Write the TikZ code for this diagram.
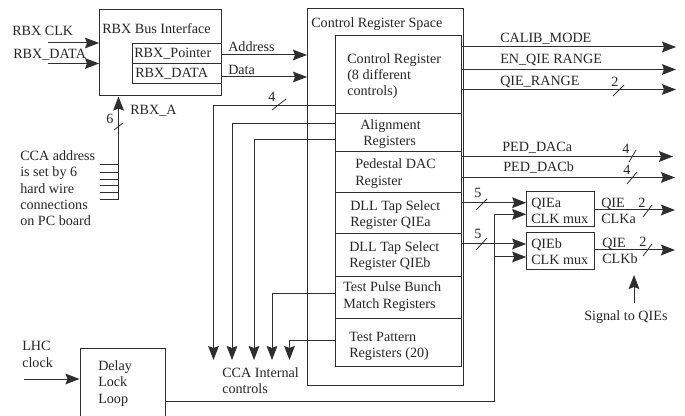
\documentclass[tikz,border=0pt]{standalone}
\usepackage{fontspec}
\setmainfont{Liberation Serif}
\usetikzlibrary{arrows.meta,fit}
\definecolor{ink}{gray}{0.18}
\tikzset{
  x=0.75pt,y=-0.75pt,
  panel/.style={draw=ink,line width=0.75pt,inner sep=0pt,fill=none},
  wire/.style={draw=ink,line width=0.75pt},
  sig/.style={wire,-{Stealth[length=10.5pt,width=8pt,inset=1.5pt]}},
  tick/.style={draw=ink,line width=0.6pt},
  lbl/.style={anchor=west,inner sep=0pt,text=black!85,font=\fontsize{10.6}{12}\selectfont,text height=8.6pt,text depth=2pt},
}
\begin{document}
\begin{tikzpicture}
\useasboundingbox (0,0) rectangle (685,416);
\fill[white] (0,0) rectangle (685,416);
% boxes
\node[panel,fit={(99.5,10)(221.5,96)}] (rbx) {};
\node[panel,fit={(132.5,43.5)(221,64)}] (ptr) {};
\node[panel,fit={(132.5,64)(221,83.5)}] (rdata) {};
\node[panel,fit={(307.5,8.5)(463.5,385)}] (space) {};
\node[panel,fit={(335.5,35.7)(461.7,114)}] (rctl) {};
\node[panel,fit={(335.5,114)(461.7,151.5)}] (ralign) {};
\node[panel,fit={(335.5,151.5)(461.7,192.3)}] (rped) {};
\node[panel,fit={(335.5,192.3)(461.7,234)}] (rdlla) {};
\node[panel,fit={(335.5,234)(461.7,276.7)}] (rdllb) {};
\node[panel,fit={(335.5,276.7)(461.7,318.7)}] (rpulse) {};
\node[panel,fit={(335.5,318.7)(461.7,367)}] (rpat) {};
\node[panel,fit={(526.7,191.7)(594.7,227)}] (muxa) {};
\node[panel,fit={(526.7,233)(594.7,269.3)}] (muxb) {};
\node[panel,fit={(80,349)(165,430)}] (dll) {};
% free ends
\coordinate (clkin) at (48,43);
\coordinate (datain) at (48,63.5);
\coordinate (wiretop) at (118.5,165);
\coordinate (wirebot) at (118.5,200);
\coordinate (lhcin) at (24,379);
\coordinate (tapa) at (213.5,360);
\coordinate (tapb) at (232,360);
\coordinate (tapc) at (254,360);
\coordinate (tapd) at (272,360);
\coordinate (tape) at (289.5,360);
\coordinate (calib) at (676,47);
\coordinate (enq) at (676,69.5);
\coordinate (qier) at (676,89.5);
\coordinate (peda) at (673,156.5);
\coordinate (pedb) at (675,177.5);
\coordinate (clka) at (675,210);
\coordinate (clkb) at (675,250);
\coordinate (sigfoot) at (634,303);
\coordinate (sighead) at (634,275);
\coordinate (dllbus) at (494,401);
% inputs
\draw[sig] (clkin) -- (clkin -| rbx.west);
\draw[sig] (datain) -- (datain -| rbx.west);
\draw[sig] (wirebot) -- (wirebot |- rbx.south);
\foreach \yy in {165,172.7,180,186,192.7,200} \draw[wire] (100,\yy) -- (118.5,\yy);
\draw[sig] (ptr.east |- 0,55) -- (space.west |- 0,55);
\draw[sig] (rdata.east |- 0,77) -- (space.west |- 0,77);
% internal controls
\draw[sig] (rctl.west |- 0,105.3) -- (tapa |- 0,105.3) -- (tapa);
\draw[sig] (ralign.west |- 0,124) -- (tapb |- 0,124) -- (tapb);
\draw[sig] (ralign.west |- 0,140) -- (tapc |- 0,140) -- (tapc);
\draw[sig] (rpulse.west |- 0,293.3) -- (tapd |- 0,293.3) -- (tapd);
\draw[sig] (rpat.west |- 0,341) -- (tape |- 0,341) -- (tape);
% outputs
\draw[sig] (rctl.east |- calib) -- (calib);
\draw[sig] (rctl.east |- enq) -- (enq);
\draw[sig] (rctl.east |- qier) -- (qier);
\draw[sig] (rped.east |- peda) -- (peda);
\draw[sig] (rped.east |- pedb) -- (pedb);
\draw[sig] (rdlla.east |- 0,202.7) -- (muxa.west |- 0,202.7);
\draw[sig] (rdllb.east |- 0,244) -- (muxb.west |- 0,244);
\draw[sig] (dll.east |- dllbus) -- (dllbus) -- (dllbus |- 0,214.3) -- (muxa.west |- 0,214.3);
\draw[sig] (dllbus |- 0,257) -- (muxb.west |- 0,257);
\draw[sig] (muxa.east |- clka) -- (clka);
\draw[sig] (muxb.east |- clkb) -- (clkb);
\draw[sig] (sigfoot) -- (sighead);
\draw[sig] (lhcin) -- (lhcin -| dll.west);
% bus ticks
\draw[tick] (114,130) -- (123,123);
\draw[tick] (272,110) -- (286,99);
\draw[tick] (613,96) -- (624,85);
\draw[tick] (629,162) -- (636,150);
\draw[tick] (627,184) -- (637,172);
\draw[tick] (476,210) -- (487,199);
\draw[tick] (476,250) -- (487,238);
\draw[tick] (643,217) -- (652,205);
\draw[tick] (643,256) -- (652,244);
% labels
\node[lbl] (t1) at (12,31) {RBX CLK};
\node[lbl] (t2) at (13,54) {RBX\_DATA};
\node[lbl] (t3) at (102,29) {RBX Bus Interface};
\node[lbl] (t4) at (134,53) {RBX\_Pointer};
\node[lbl] (t5) at (135,73) {RBX\_DATA};
\node[lbl] (t6) at (228,47) {Address};
\node[lbl] (t7) at (228,70) {Data};
\node[lbl] (t8) at (130,110) {RBX\_A};
\node[lbl] (t9) at (106,119) {6};
\node[lbl] (t10) at (268,97) {4};
\node[lbl] (t11) at (20,156) {CCA address};
\node[lbl] (t12) at (20,172) {is set by 6};
\node[lbl] (t13) at (20,189) {hard wire};
\node[lbl] (t14) at (20,205) {connections};
\node[lbl] (t15) at (20,221) {on PC board};
\node[lbl] (t16) at (22,346) {LHC};
\node[lbl] (t17) at (22,363) {clock};
\node[lbl] (t18) at (98,366) {Delay};
\node[lbl] (t19) at (98,382) {Lock};
\node[lbl] (t20) at (98,399) {Loop};
\node[lbl] (t21) at (222,373) {CCA Internal};
\node[lbl] (t22) at (222,389) {controls};
\node[lbl] (t23) at (311,23) {Control Register Space};
\node[lbl] (t24) at (347,59) {Control Register};
\node[lbl] (t25) at (347,75) {(8 different};
\node[lbl] (t26) at (347,91) {controls)};
\node[lbl] (t27) at (360,125) {Alignment};
\node[lbl] (t28) at (363,141) {Registers};
\node[lbl] (t29) at (355,164) {Pedestal DAC};
\node[lbl] (t30) at (355,181) {Register};
\node[lbl] (t31) at (350,206) {DLL Tap Select};
\node[lbl] (t32) at (350,222) {Register QIEa};
\node[lbl] (t33) at (349,247) {DLL Tap Select};
\node[lbl] (t34) at (349,263) {Register QIEb};
\node[lbl] (t35) at (343,287) {Test Pulse Bunch};
\node[lbl] (t36) at (343,304) {Match Registers};
\node[lbl] (t37) at (349,337) {Test Pattern};
\node[lbl] (t38) at (349,353) {Registers (20)};
\node[lbl] (t39) at (500,38) {CALIB\_MODE};
\node[lbl] (t40) at (500,59) {EN\_QIE RANGE};
\node[lbl] (t41) at (500,81) {QIE\_RANGE};
\node[lbl] (t42) at (611,82) {2};
\node[lbl] (t43) at (502,147) {PED\_DACa};
\node[lbl] (t44) at (503,167) {PED\_DACb};
\node[lbl] (t45) at (622,149) {4};
\node[lbl] (t46) at (623,170) {4};
\node[lbl] (t47) at (474,193) {5};
\node[lbl] (t48) at (474,234) {5};
\node[lbl] (t49) at (531,203) {QIEa};
\node[lbl] (t50) at (531,219) {CLK mux};
\node[lbl] (t51) at (531,244) {QIEb};
\node[lbl] (t52) at (531,260) {CLK mux};
\node[lbl] (t53) at (601,203) {QIE};
\node[lbl] (t54) at (601,219) {CLKa};
\node[lbl] (t55) at (602,243) {QIE};
\node[lbl] (t56) at (602,259) {CLKb};
\node[lbl] (t57) at (638,203) {2};
\node[lbl] (t58) at (639,242) {2};
\node[lbl] (t59) at (584,316) {Signal to QIEs};
\end{tikzpicture}
\end{document}
